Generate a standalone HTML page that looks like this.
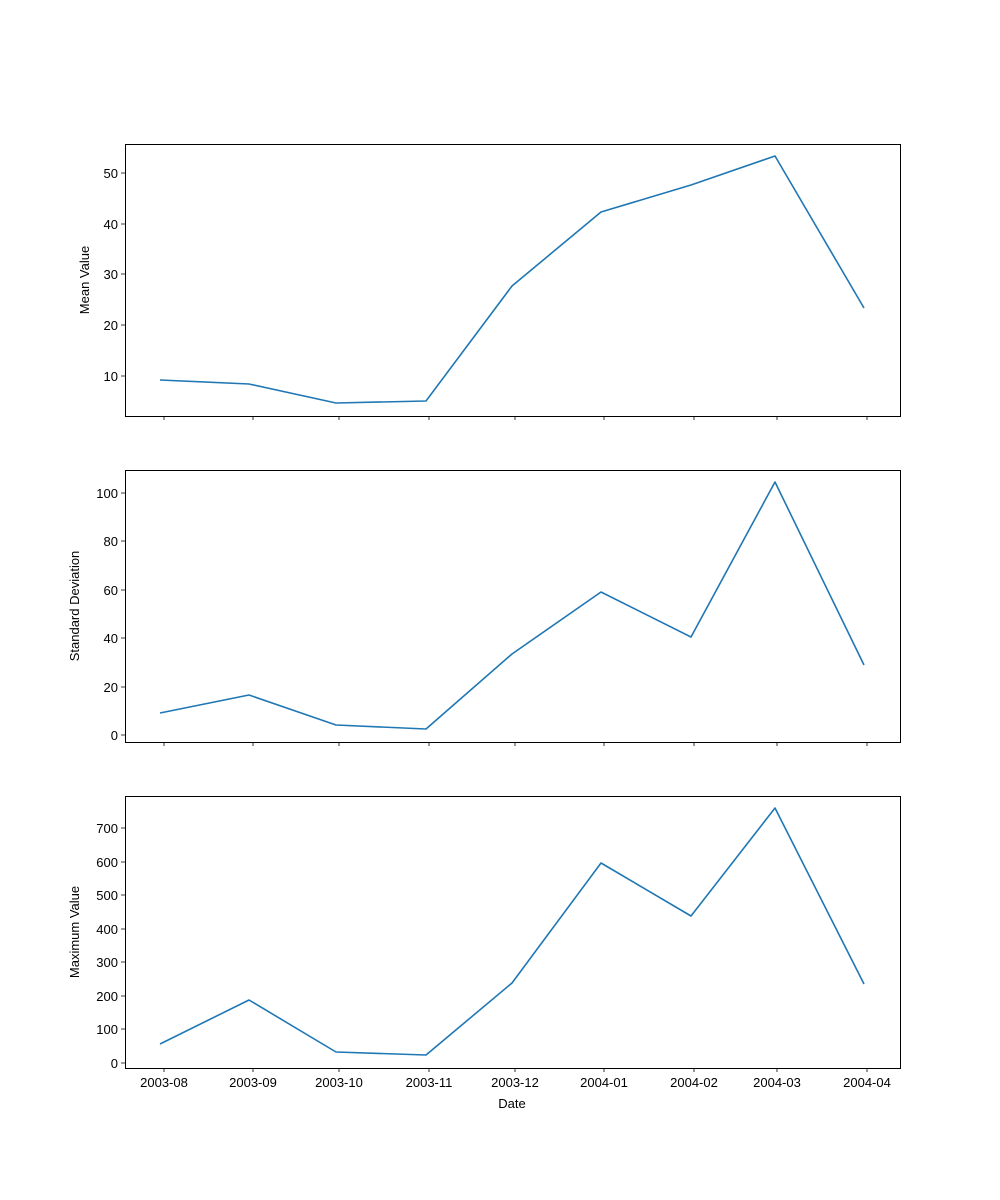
<!DOCTYPE html>
<html><head><meta charset="utf-8"><style>body{margin:0;background:#fff}svg{display:block}text{font-family:"Liberation Sans","DejaVu Sans",sans-serif;font-size:13px;fill:#000}</style></head>
<body>
<svg width="1000" height="1200" xmlns="http://www.w3.org/2000/svg">
<rect width="1000" height="1200" fill="#fff"/>
<g stroke="#000" stroke-width="1" fill="none">
<rect x="125.5" y="144.5" width="775" height="272"/>
<rect x="125.5" y="470.5" width="775" height="272"/>
<rect x="125.5" y="796.5" width="775" height="272"/>
</g>
<g stroke="#000" stroke-width="0.8">
<path d="M164,416v4M253,416v4M339,416v4M429,416v4M515,416v4M604,416v4M694,416v4M777,416v4M867,416v4"/>
<path d="M164,742v4M253,742v4M339,742v4M429,742v4M515,742v4M604,742v4M694,742v4M777,742v4M867,742v4"/>
<path d="M164,1068v4M253,1068v4M339,1068v4M429,1068v4M515,1068v4M604,1068v4M694,1068v4M777,1068v4M867,1068v4"/>
<path d="M125,173h-4M125,224h-4M125,274h-4M125,325h-4M125,376h-4"/>
<path d="M125,493h-4M125,541h-4M125,590h-4M125,638h-4M125,687h-4M125,735h-4"/>
<path d="M125,828h-4M125,862h-4M125,895h-4M125,929h-4M125,962h-4M125,996h-4M125,1029h-4M125,1063h-4"/>
</g>
<g text-anchor="end">
<text x="118" y="178">50</text><text x="118" y="229">40</text><text x="118" y="279">30</text><text x="118" y="330">20</text><text x="118" y="381">10</text>
<text x="118" y="498">100</text><text x="118" y="546">80</text><text x="118" y="595">60</text><text x="118" y="643">40</text><text x="118" y="692">20</text><text x="118" y="740">0</text>
<text x="118" y="833">700</text><text x="118" y="867">600</text><text x="118" y="900">500</text><text x="118" y="934">400</text><text x="118" y="967">300</text><text x="118" y="1001">200</text><text x="118" y="1034">100</text><text x="118" y="1068">0</text>
</g>
<g text-anchor="middle">
<text x="164" y="1087">2003-08</text><text x="253" y="1087">2003-09</text><text x="339" y="1087">2003-10</text><text x="429" y="1087">2003-11</text><text x="515" y="1087">2003-12</text><text x="604" y="1087">2004-01</text><text x="694" y="1087">2004-02</text><text x="777" y="1087">2004-03</text><text x="867" y="1087">2004-04</text>
<text x="512" y="1108">Date</text>
<text transform="translate(89,280) rotate(-90)">Mean Value</text>
<text transform="translate(79,606) rotate(-90)">Standard Deviation</text>
<text transform="translate(79,932) rotate(-90)">Maximum Value</text>
</g>
<g stroke="#1f77b4" stroke-width="1.6" fill="none" stroke-linejoin="round">
<polyline points="160,380 249,384 336,403 426,401 512,286 601,212 691,185 775,156 864,308"/>
<polyline points="160,713 249,695 336,725 426,729 512,654 601,592 691,637 775,482 864,665"/>
<polyline points="160,1044 249,1000 336,1052 426,1055 512,983 601,863 691,916 775,808 864,984"/>
</g>
</svg>
</body></html>
